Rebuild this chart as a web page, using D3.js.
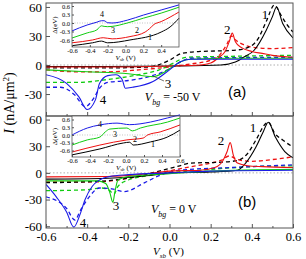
<!DOCTYPE html>
<html lang="en">
<head>
<meta charset="utf-8">
<script src="https://d3js.org/d3.v7.min.js"></script>
<style>
  body { margin: 0; background: #fff; }
  svg text { font-family: "Liberation Serif", "Times New Roman", serif; fill: #000; }
</style>
</head>
<body>
<script>
// ---- data (x in V, y in nA/um^2 or eV) ----
const xTicks = [-0.6, -0.4, -0.2, 0.0, 0.2, 0.4, 0.6];
const yTicksA = [60, 30, 0, -30];
const yTicksB = [60, 30, 0, -30, -60];
const insetYTicks = [0.6, 0.3, 0.0, -0.3, -0.6];
const insetXTicksA = [-0.6, -0.4, -0.2, 0.0, 0.2, 0.4];
const insetXTicksB = [-0.6, -0.4, -0.2, 0.0, 0.2, 0.4, 0.6];

// panel (a), Vbg = -50 V
const a1 = [[-0.6,-1.5],[-0.3,-1.5],[0,-1],[0.25,0],[0.32,3],[0.36,8],[0.41,15],[0.47,36],[0.5,50],[0.52,60],[0.55,43],[0.6,28]];
const a1d = [[-0.6,-3],[-0.3,-3],[-0.1,-2],[0,5],[0.06,12],[0.15,14],[0.3,15],[0.38,18],[0.43,27],[0.47,45],[0.51,62],[0.54,52],[0.57,42],[0.6,34]];
const a2 = [[-0.6,-2],[-0.2,-2],[0,-1],[0.15,0],[0.2,2],[0.24,8],[0.27,14],[0.29,24],[0.305,33],[0.32,24],[0.35,18],[0.4,14],[0.45,12],[0.5,10],[0.6,8]];
const a2d = [[-0.6,-5],[-0.45,-7],[-0.3,-7],[-0.15,-5],[0,-2],[0.1,1],[0.2,5],[0.25,12],[0.28,22],[0.3,30],[0.32,26],[0.36,21],[0.42,18],[0.5,17],[0.6,18]];
const a3 = [[-0.6,-5],[-0.4,-7],[-0.2,-9],[-0.08,-12],[-0.03,-8],[0.02,-1],[0.06,4],[0.1,6],[0.3,7],[0.6,7]];
const a3d = [[-0.6,-18],[-0.45,-18],[-0.3,-15],[-0.15,-10],[-0.05,-5],[0.02,2],[0.08,8],[0.3,9],[0.6,10]];
const a4 = [[-0.6,-10],[-0.5,-19],[-0.44,-33],[-0.4,-46],[-0.36,-36],[-0.34,-19],[-0.3,-11],[-0.26,-10],[-0.23,-15],[-0.215,-24],[-0.18,-23],[-0.08,-17],[0,-5],[0.05,3],[0.1,6],[0.6,6]];
const a4d = [[-0.6,-23],[-0.53,-23],[-0.46,-31],[-0.41,-43],[-0.37,-35],[-0.34,-24],[-0.3,-18],[-0.2,-16],[-0.1,-12],[0,-4],[0.06,4],[0.1,7],[0.6,8]];

// panel (b), Vbg = 0 V
const b1 = [[-0.6,-7],[-0.3,-6],[-0.1,-3],[0,0],[0.2,1],[0.33,3],[0.37,11],[0.42,29],[0.455,46],[0.48,57],[0.515,40],[0.56,24],[0.6,17]];
const b1d = [[-0.6,-11],[-0.4,-10],[-0.2,-6],[-0.05,2],[0.05,8],[0.1,11],[0.25,12],[0.33,14],[0.38,22],[0.42,37],[0.47,56],[0.48,57],[0.51,45],[0.55,37],[0.6,29]];
const b2 = [[-0.6,-4.5],[-0.3,-4],[-0.15,-2],[0,2],[0.15,3],[0.22,6],[0.26,14],[0.28,24],[0.295,34],[0.31,20],[0.33,11],[0.38,8],[0.45,7],[0.6,6]];
const b2d = [[-0.6,-10],[-0.35,-10],[-0.2,-6],[-0.05,0],[0.08,6],[0.2,11],[0.25,14],[0.29,19],[0.33,15],[0.4,13],[0.5,15],[0.6,18]];
const b3 = [[-0.6,-9],[-0.35,-9],[-0.31,-12],[-0.29,-22],[-0.275,-33],[-0.265,-21],[-0.25,-8],[-0.2,-4],[0,-1],[0.2,2],[0.6,4]];
const b3d = [[-0.6,-20],[-0.4,-19],[-0.33,-17],[-0.29,-20],[-0.27,-24],[-0.25,-15],[-0.2,-8],[-0.1,-3],[0,0],[0.2,4],[0.4,7],[0.6,8]];
const b4 = [[-0.6,-13],[-0.55,-27],[-0.5,-44],[-0.465,-61],[-0.435,-47],[-0.41,-30],[-0.375,-15],[-0.34,-8],[-0.29,-4],[-0.2,-2],[0,0],[0.2,2],[0.6,3]];
const b4d = [[-0.6,-27],[-0.5,-40],[-0.46,-53],[-0.43,-41],[-0.39,-27],[-0.34,-17],[-0.28,-18],[-0.22,-21],[-0.12,-11],[-0.05,-3],[0.05,3],[0.3,6],[0.6,9]];

// insets: gap (eV) vs V
const ia1 = [[-0.6,-0.8],[-0.37,-0.7],[-0.27,-0.64],[-0.2,-0.7],[0.05,-0.6],[0.4,-0.32],[0.5,-0.14],[0.6,0.17]];
const ia2 = [[-0.6,-0.7],[-0.37,-0.6],[-0.25,-0.52],[-0.15,-0.56],[0.05,-0.48],[0.22,-0.32],[0.27,-0.2],[0.32,-0.05],[0.4,0.05],[0.6,0.39]];
const ia3 = [[-0.6,-0.53],[-0.43,-0.35],[-0.32,-0.24],[-0.27,-0.1],[-0.24,-0.12],[-0.2,-0.13],[-0.15,-0.12],[0.02,0.0],[0.2,0.17],[0.4,0.35],[0.6,0.56]];
const ia4 = [[-0.6,-0.28],[-0.43,-0.07],[-0.32,0.03],[-0.27,0.08],[-0.24,0.08],[-0.2,0.01],[-0.15,0.0],[0.02,0.1],[0.2,0.28],[0.4,0.46],[0.6,0.64]];
const ib1 = [[-0.6,-0.77],[-0.29,-0.54],[-0.03,-0.31],[0.04,-0.28],[0.08,-0.39],[0.27,-0.27],[0.46,-0.08],[0.6,0.19]];
const ib2 = [[-0.6,-0.66],[-0.29,-0.39],[0.01,-0.19],[0.19,-0.12],[0.24,0.0],[0.38,0.12],[0.6,0.39]];
const ib3 = [[-0.6,-0.39],[-0.43,-0.19],[-0.29,-0.08],[-0.23,0.12],[-0.18,0.23],[0.01,0.27],[0.07,0.16],[0.16,0.27],[0.46,0.5],[0.6,0.66]];
const ib4 = [[-0.6,0.0],[-0.43,0.27],[-0.29,0.39],[-0.1,0.46],[0.04,0.4],[0.27,0.5],[0.46,0.66],[0.6,0.78]];

// curve labels [text, x, y] in data units
const labelsA = [["1",0.464,47.5],["2",0.28,32],["3",-0.007,-23.5],["4",-0.323,-40.3]];
const labelsB = [["1",0.406,46],["2",0.25,31.5],["3",-0.26,-41.6],["4",-0.42,-60.7]];
const insetLabelsA = [["4",-0.264,0.21],["3",-0.14,-0.35],["2",0.129,-0.35],["1",0.275,-0.6]];
const insetLabelsB = [["4",-0.289,0.31],["3",-0.122,-0.08],["2",0.1,-0.27],["1",0.3,-0.47]];

const colors = {1: "#000000", 2: "#ee1111", 3: "#11cc11", 4: "#1a1ae6"};
const serif = "'Liberation Serif', 'Times New Roman', serif";

// ---- layout ----
const w = 306, h = 259;
const left = 46, right = 293;

const svg = d3.select("body").append("svg")
  .attr("width", w).attr("height", h);

svg.append("rect").attr("width", w).attr("height", h).attr("fill", "#fff");

const x = d3.scaleLinear().domain([-0.6, 0.6]).range([left, right]);
const yA = d3.scaleLinear().domain([-52.7, 64.1]).range([116, 3]);
const yB = d3.scaleLinear().domain([-62, 64]).range([228, 116]);

function drawPanel(id, y, top, bottom, curves, yTicks, showXLabels) {
  const g = svg.append("g").attr("id", id);

  g.append("clipPath").attr("id", "clip-" + id)
    .append("rect").attr("x", left).attr("y", top)
    .attr("width", right - left).attr("height", bottom - top);

  const plot = g.append("g").attr("clip-path", `url(#clip-${id})`);

  // zero line
  plot.append("line")
    .attr("x1", x(-0.6)).attr("x2", x(0.6))
    .attr("y1", y(0)).attr("y2", y(0))
    .attr("stroke", "#999").attr("stroke-width", 0.8)
    .attr("stroke-dasharray", "1.5,2");

  const line = d3.line().x(d => x(d[0])).y(d => y(d[1])).curve(d3.curveMonotoneX);

  curves.forEach(c => {
    plot.append("path")
      .attr("d", line(c.data))
      .attr("fill", "none")
      .attr("stroke", colors[c.k])
      .attr("stroke-width", c.dash ? 1.3 : 1.1)
      .attr("stroke-dasharray", c.dash ? "4,3" : null);
  });

  // frame
  g.append("rect")
    .attr("x", left).attr("y", top)
    .attr("width", right - left).attr("height", bottom - top)
    .attr("fill", "none").attr("stroke", "#555").attr("stroke-width", 1);

  // x axis (inward ticks)
  const xAxis = d3.axisBottom(x).tickValues(xTicks).tickSizeInner(-4).tickSizeOuter(0).tickPadding(4)
    .tickFormat(showXLabels ? (d => d.toFixed(1)) : "");
  const gx = g.append("g").attr("transform", `translate(0,${bottom})`).call(xAxis);
  gx.select(".domain").remove();
  gx.selectAll("line").attr("stroke", "#555");
  gx.selectAll("text").style("font-size", "12.5px").style("font-family", serif);

  const xMinor = d3.axisBottom(x).tickValues(d3.range(-0.5, 0.6, 0.2)).tickSizeInner(-2).tickSizeOuter(0).tickFormat("");
  const gxm = g.append("g").attr("transform", `translate(0,${bottom})`).call(xMinor);
  gxm.select(".domain").remove();
  gxm.selectAll("line").attr("stroke", "#555");

  // y axis
  const yAxis = d3.axisLeft(y).tickValues(yTicks).tickSizeInner(-4).tickSizeOuter(0).tickPadding(4)
    .tickFormat(d => String(d));
  const gy = g.append("g").attr("transform", `translate(${left},0)`).call(yAxis);
  gy.select(".domain").remove();
  gy.selectAll("line").attr("stroke", "#555");
  gy.selectAll("text").style("font-size", "13px").style("font-family", serif);

  return g;
}

function addLabels(g, y, labels, size) {
  g.selectAll(null).data(labels).enter().append("text")
    .attr("x", d => x(d[1])).attr("y", d => y(d[2]))
    .attr("text-anchor", "middle")
    .style("font-size", size + "px").style("font-family", serif)
    .text(d => d[0]);
}

function drawInset(id, x0, x1, y0, y1, yDom, curves, xTickVals, labels) {
  const ix = d3.scaleLinear().domain([-0.6, 0.6]).range([x0, x1]);
  const iy = d3.scaleLinear().domain(yDom).range([y1, y0]);
  const g = svg.append("g").attr("id", id);

  g.append("rect").attr("x", x0).attr("y", y0).attr("width", x1 - x0).attr("height", y1 - y0)
    .attr("fill", "#fff");

  g.append("line")
    .attr("x1", ix(-0.6)).attr("x2", ix(0.6)).attr("y1", iy(0)).attr("y2", iy(0))
    .attr("stroke", "#aaa").attr("stroke-width", 0.7).attr("stroke-dasharray", "1,1.5");

  const line = d3.line().x(d => ix(d[0])).y(d => iy(d[1])).curve(d3.curveMonotoneX);
  curves.forEach(c => {
    g.append("path").attr("d", line(c.data))
      .attr("fill", "none").attr("stroke", colors[c.k]).attr("stroke-width", 1);
  });

  g.append("rect").attr("x", x0).attr("y", y0).attr("width", x1 - x0).attr("height", y1 - y0)
    .attr("fill", "none").attr("stroke", "#555").attr("stroke-width", 0.8);

  const ax = d3.axisBottom(ix).tickValues(xTickVals).tickSizeInner(-2).tickSizeOuter(0).tickPadding(1.5)
    .tickFormat(d => d.toFixed(1));
  const gx = g.append("g").attr("transform", `translate(0,${y1})`).call(ax);
  gx.select(".domain").remove();
  gx.selectAll("line").attr("stroke", "#555");
  gx.selectAll("text").style("font-size", "6.5px").style("font-family", serif).attr("fill", "#333");

  const ay = d3.axisLeft(iy).tickValues(insetYTicks).tickSizeInner(-2).tickSizeOuter(0).tickPadding(2)
    .tickFormat(d => d.toFixed(1));
  const gy = g.append("g").attr("transform", `translate(${x0},0)`).call(ay);
  gy.select(".domain").remove();
  gy.selectAll("line").attr("stroke", "#555");
  gy.selectAll("text").style("font-size", "6.5px").style("font-family", serif).attr("fill", "#333");

  // axis titles
  g.append("text")
    .attr("transform", `translate(${x0 - 15},${(y0 + y1) / 2}) rotate(-90)`)
    .attr("text-anchor", "middle").style("font-size", "7px").style("font-family", serif)
    .attr("fill", "#333").text("Δ(eV)");

  const xt = g.append("text")
    .attr("x", (x0 + x1) / 2).attr("y", y1 + 12.5)
    .attr("text-anchor", "middle").style("font-size", "7px").style("font-family", serif).attr("fill", "#333");
  xt.append("tspan").style("font-style", "italic").text("V");
  xt.append("tspan").attr("dy", 1.5).style("font-size", "5px").style("font-style", "italic").text("sb");
  xt.append("tspan").attr("dy", -1.5).text(" (V)");

  g.selectAll(null).data(labels).enter().append("text")
    .attr("x", d => ix(d[1])).attr("y", d => iy(d[2]))
    .attr("text-anchor", "middle").style("font-size", "8px").style("font-family", serif)
    .attr("fill", d => d[0] === "1" ? "#9a9a00" : "#000")
    .text(d => d[0]);
}

const curvesA = [
  {k: 2, data: a2d, dash: true}, {k: 1, data: a1d, dash: true},
  {k: 3, data: a3d, dash: true}, {k: 4, data: a4d, dash: true},
  {k: 1, data: a1}, {k: 2, data: a2}, {k: 3, data: a3}, {k: 4, data: a4}
];
const curvesB = [
  {k: 2, data: b2d, dash: true}, {k: 1, data: b1d, dash: true},
  {k: 3, data: b3d, dash: true}, {k: 4, data: b4d, dash: true},
  {k: 1, data: b1}, {k: 2, data: b2}, {k: 3, data: b3}, {k: 4, data: b4}
];

const gA = drawPanel("pa", yA, 3, 116, curvesA, yTicksA, false);
const gB = drawPanel("pb", yB, 116, 228, curvesB, yTicksB, true);

addLabels(gA, yA, labelsA, 13);
addLabels(gB, yB, labelsB, 13);

// leader line for label 3 in (a)
gA.append("line")
  .attr("x1", x(-0.08)).attr("y1", yA(-11.4))
  .attr("x2", x(-0.027)).attr("y2", yA(-16.5))
  .attr("stroke", "#333").attr("stroke-width", 0.7);

// panel tags
function vbgLabel(g, y, vx, vy, value) {
  const t = g.append("text").attr("x", x(vx)).attr("y", y(vy))
    .style("font-size", "12px").style("font-family", serif);
  t.append("tspan").style("font-style", "italic").text("V");
  t.append("tspan").attr("dy", 4).style("font-size", "8px").style("font-style", "italic").text("bg");
  t.append("tspan").attr("dy", -4).text(" = " + value + " V");
}
vbgLabel(gA, yA, -0.12, -37.5, "-50");
vbgLabel(gB, yB, -0.09, -45, "0");

gA.append("text").attr("x", x(0.284)).attr("y", yA(-33))
  .style("font-family", "'Liberation Sans', Arial, sans-serif").style("font-size", "15px").text("(a)");
gB.append("text").attr("x", x(0.333)).attr("y", yB(-38))
  .style("font-family", "'Liberation Sans', Arial, sans-serif").style("font-size", "15px").text("(b)");

drawInset("ia", 72, 179, 3, 47, [-0.848, 0.707],
  [{k: 1, data: ia1}, {k: 2, data: ia2}, {k: 3, data: ia3}, {k: 4, data: ia4}], insetXTicksA, insetLabelsA);
drawInset("ib", 72, 180, 116, 157, [-0.853, 0.736],
  [{k: 1, data: ib1}, {k: 2, data: ib2}, {k: 3, data: ib3}, {k: 4, data: ib4}], insetXTicksB, insetLabelsB);

// main axis titles
const yTitle = svg.append("text")
  .attr("transform", `translate(14,103) rotate(-90)`)
  .attr("text-anchor", "middle").style("font-size", "14px").style("font-family", serif);
yTitle.append("tspan").style("font-style", "italic").text("I");
yTitle.append("tspan").text(" (nA/μm");
yTitle.append("tspan").attr("dy", -5).style("font-size", "9px").text("2");
yTitle.append("tspan").attr("dy", 5).text(")");

const xTitle = svg.append("text")
  .attr("x", 153).attr("y", 255).style("font-size", "11px").style("font-family", serif);
xTitle.append("tspan").style("font-style", "italic").text("V");
xTitle.append("tspan").attr("dy", 2.5).style("font-size", "7px").style("font-style", "italic").text("sb");
xTitle.append("tspan").attr("dy", -2.5).text(" (V)");
</script>
</body>
</html>
